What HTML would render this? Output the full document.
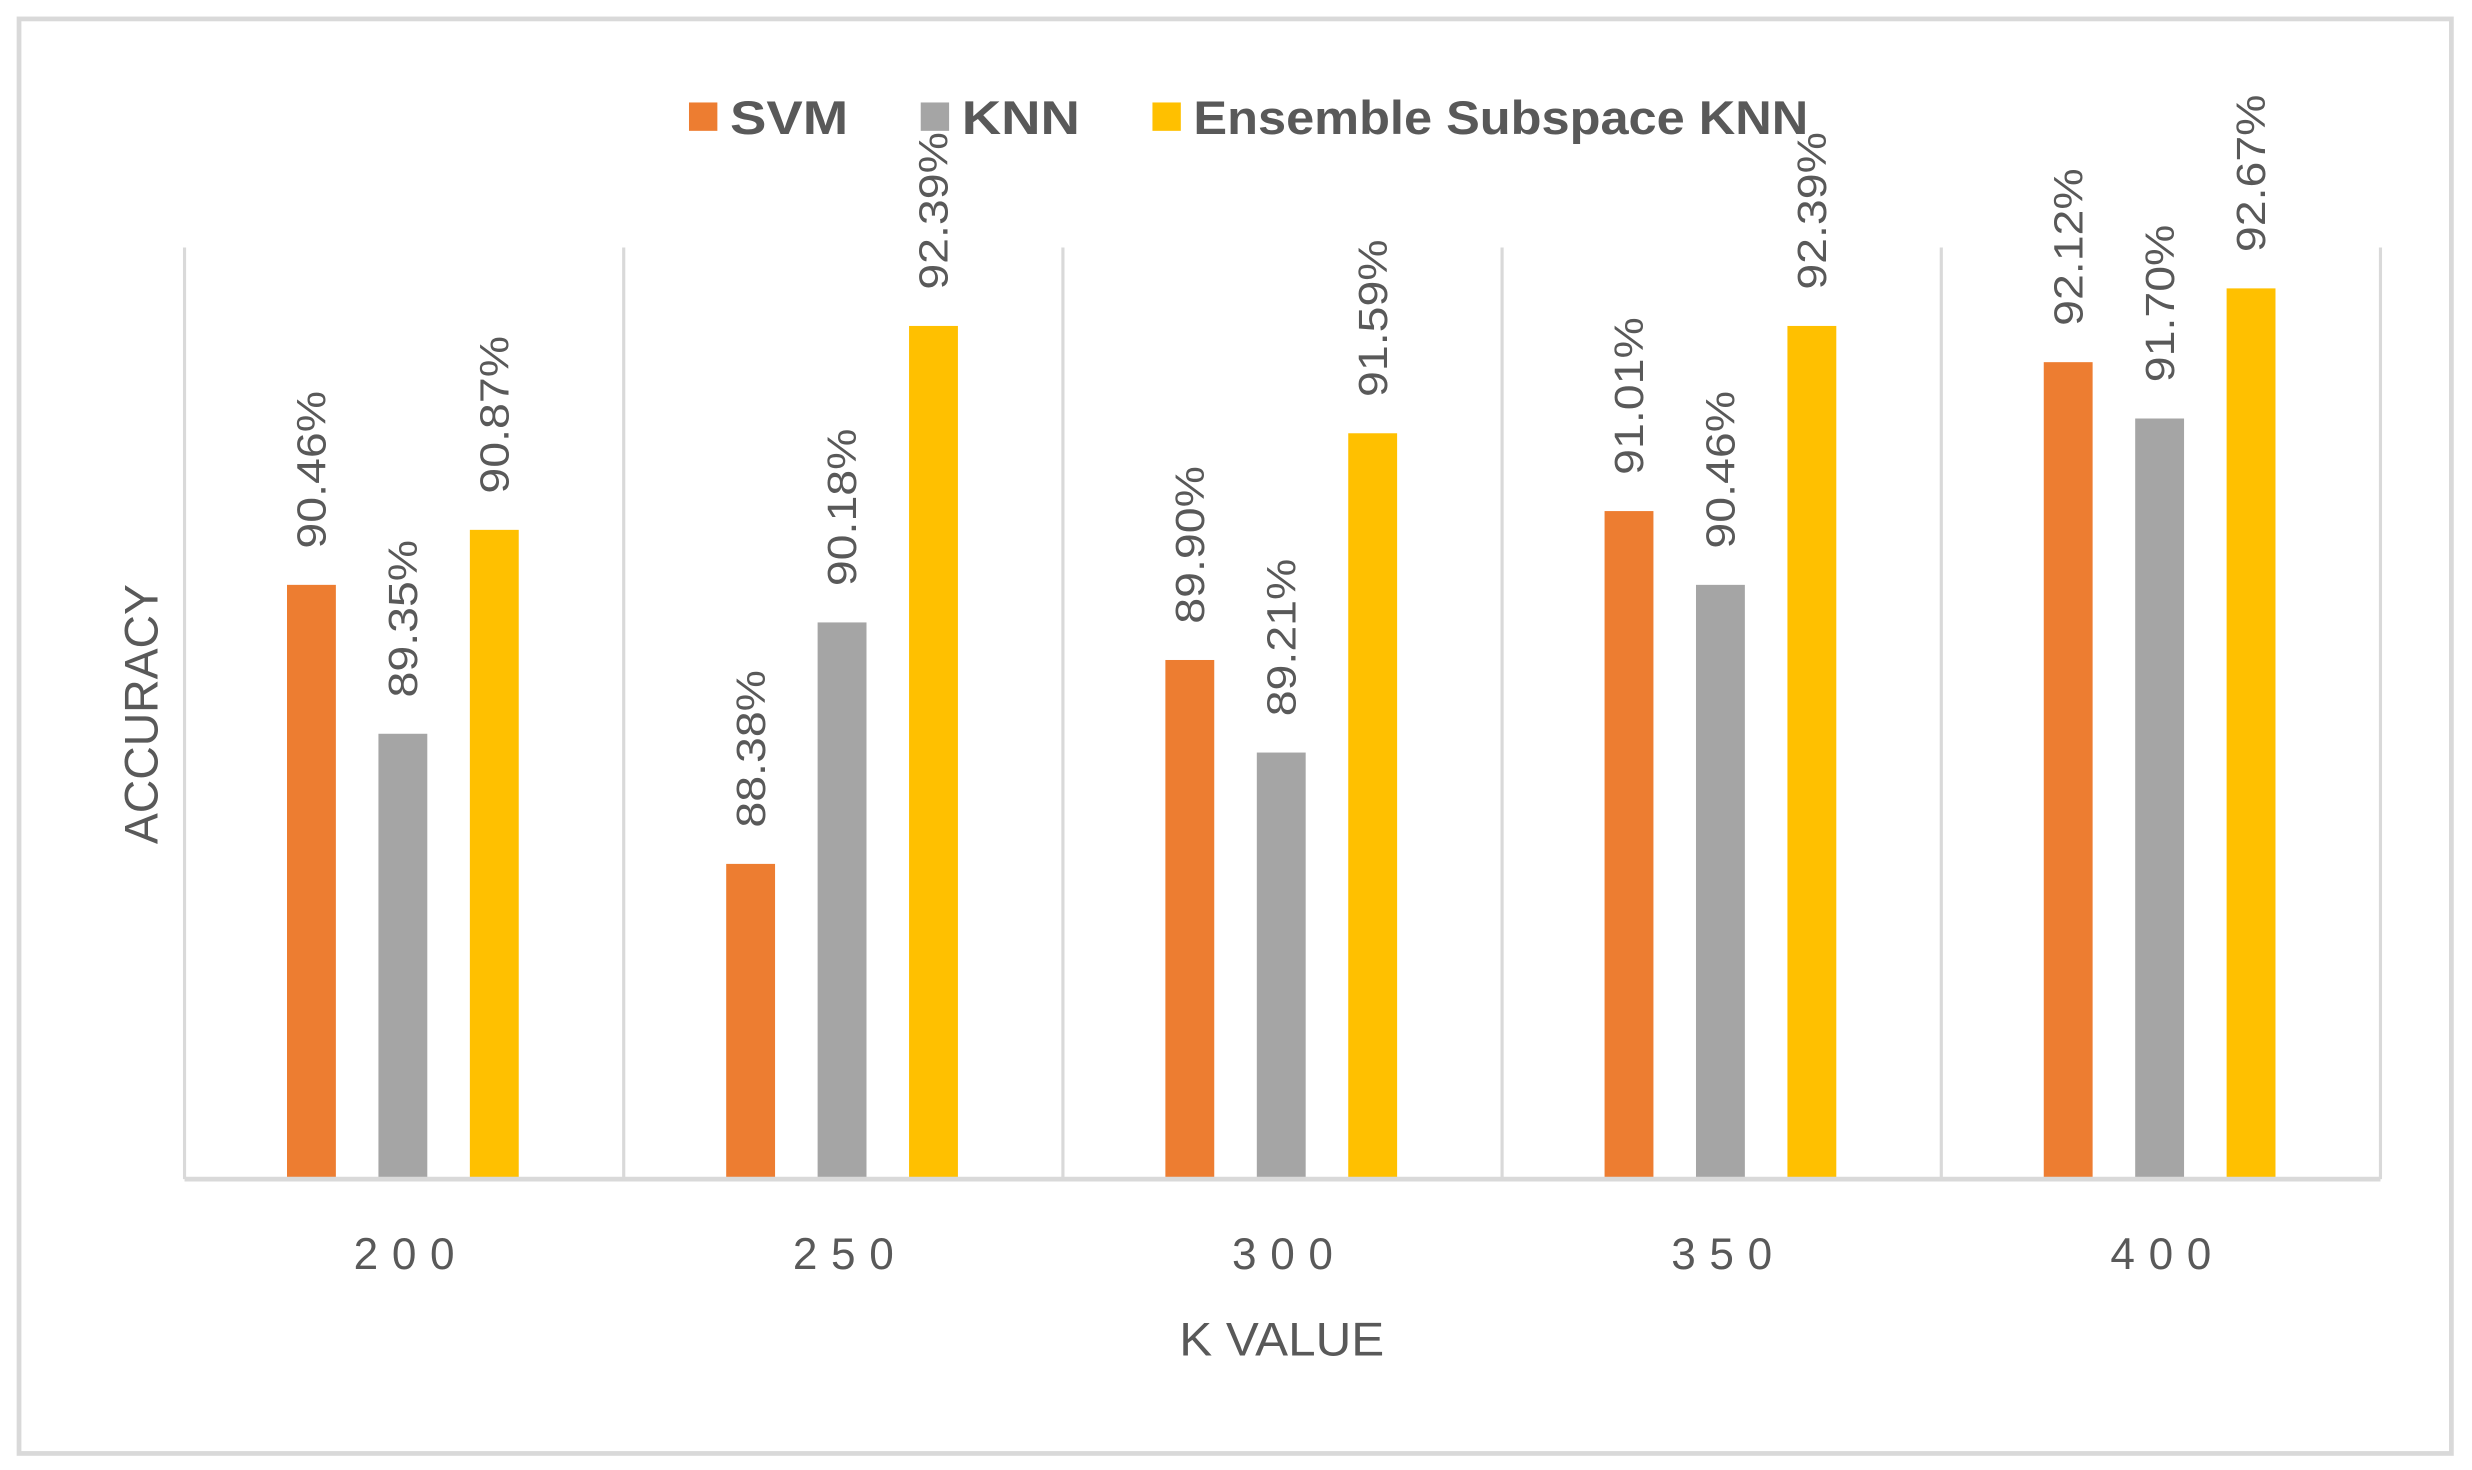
<!DOCTYPE html>
<html><head><meta charset="utf-8"><style>
html,body{margin:0;padding:0;background:#fff}
svg{display:block}
text{font-family:"Liberation Sans",sans-serif;fill:#595959}
</style></head><body>
<svg id="chart" width="2472" height="1470" viewBox="0 0 1568 932.5" xmlns="http://www.w3.org/2000/svg">
<rect x="12" y="12" width="1543" height="910" fill="#fff" stroke="#d9d9d9" stroke-width="3"/>
<g id="legend">
 <rect x="437" y="65" width="18" height="18" fill="#ed7d31"/>
 <text x="463" y="85" font-size="30" font-weight="bold" textLength="75" lengthAdjust="spacingAndGlyphs">SVM</text>
 <rect x="584" y="65" width="18" height="18" fill="#a5a5a5"/>
 <text x="610" y="85" font-size="30" font-weight="bold" textLength="75" lengthAdjust="spacingAndGlyphs">KNN</text>
 <rect x="731" y="65" width="18" height="18" fill="#ffc000"/>
 <text x="757" y="85" font-size="30" font-weight="bold" textLength="390" lengthAdjust="spacingAndGlyphs">Ensemble Subspace KNN</text>
</g>
<g id="grid"></g>
<g id="bars"></g>
<g id="labels"></g>
<line x1="117" y1="748" x2="1510" y2="748" stroke="#d9d9d9" stroke-width="3"/>
<g id="xticks"></g>
<text x="813" y="860" font-size="30" text-anchor="middle" textLength="130" lengthAdjust="spacingAndGlyphs">K VALUE</text>
<text transform="translate(100,453) rotate(-90)" font-size="30" text-anchor="middle" textLength="165" lengthAdjust="spacingAndGlyphs">ACCURACY</text>
</svg>
<script>
const categories = ["200","250","300","350","400"];
const svmValues = [90.46, 88.38, 89.90, 91.01, 92.12];
const knnValues = [89.35, 90.18, 89.21, 90.46, 91.70];
const ensembleValues = [90.87, 92.39, 91.59, 92.39, 92.67];
const seriesNames = ["svm","knn","ensemble"];

const NS = "http://www.w3.org/2000/svg";
const plotL = 117, plotR = 1510, plotTop = 157, baseY = 748;
const yMin = 86.03, pxPerUnit = 85.1;
const band = (plotR - plotL) / categories.length;
function yScale(v){ return baseY - (v - yMin) * pxPerUnit; }
function xBand(i){ return plotL + i * band; }
const colors = ["#ed7d31","#a5a5a5","#ffc000"];
const offsets = [65, 123, 181];
const barW = 31;
const all = [svmValues, knnValues, ensembleValues];

const grid = document.getElementById("grid");
for (let i = 0; i <= categories.length; i++) {
  const l = document.createElementNS(NS, "line");
  
  
  const x = xBand(i);
  l.setAttribute("x1", x); l.setAttribute("x2", x);
  l.setAttribute("y1", plotTop); l.setAttribute("y2", baseY);
  l.setAttribute("stroke", "#d9d9d9"); l.setAttribute("stroke-width", "2");
  grid.appendChild(l);
}
const bars = document.getElementById("bars");
const labels = document.getElementById("labels");
const xt = document.getElementById("xticks");
categories.forEach((c, i) => {
  all.forEach((vals, s) => {
    const v = vals[i];
    const x = xBand(i) + offsets[s];
    const y = yScale(v);
    const r = document.createElementNS(NS, "rect");
    
    
    r.setAttribute("x", x); r.setAttribute("y", y);
    r.setAttribute("width", barW); r.setAttribute("height", baseY - y);
    r.setAttribute("fill", colors[s]);
    bars.appendChild(r);
    const t = document.createElementNS(NS, "text");
    
    
    const tx = x + barW / 2 + 9, ty = y - 23;
    t.setAttribute("transform", "translate(" + tx + "," + ty + ") rotate(-90)");
    t.setAttribute("font-size", "26");
    t.setAttribute("textLength", "100");
    t.setAttribute("lengthAdjust", "spacingAndGlyphs");
    t.textContent = v.toFixed(2) + "%";
    labels.appendChild(t);
  });
  const tk = document.createElementNS(NS, "text");
  
  
  tk.setAttribute("x", xBand(i) + band / 2);
  tk.setAttribute("y", 805);
  tk.setAttribute("font-size", "28");
  tk.setAttribute("text-anchor", "middle");
  tk.setAttribute("textLength", "64");
  tk.setAttribute("lengthAdjust", "spacing");
  tk.textContent = c;
  xt.appendChild(tk);
});
</script>
</body></html>
